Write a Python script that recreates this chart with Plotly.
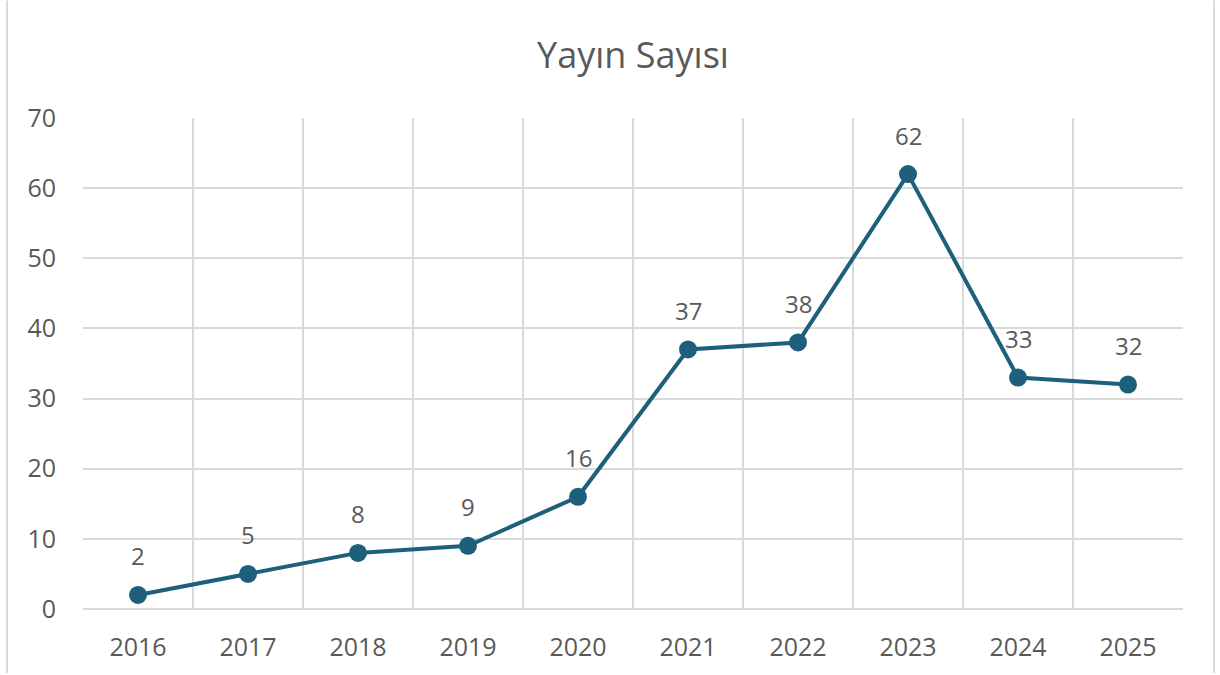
import plotly.graph_objects as go

years = ["2016", "2017", "2018", "2019", "2020", "2021", "2022", "2023", "2024", "2025"]
counts = [2, 5, 8, 9, 16, 37, 38, 62, 33, 32]
title_text = "Yayın Sayısı"

LINE = "#1E5F7C"
GRID = "#D9D9D9"
TXT = "#595959"
FONT = "Open Sans, Segoe UI, sans-serif"

fig = go.Figure()
fig.add_trace(go.Scatter(
    x=years, y=counts, mode="lines+markers",
    line=dict(color=LINE, width=4),
    marker=dict(color=LINE, size=18),
    hoverinfo="x+y", showlegend=False,
))

for i, y in enumerate(counts):
    fig.add_annotation(x=i, y=y, xref="x", yref="y", text=str(y), showarrow=False,
                       yshift=39, font=dict(family=FONT, size=24, color=TXT))

L, R, T, B = 83, 37, 118, 64
W, H = 1220, 675
pw, ph = W - L - R, H - T - B
# chart outer border (light gray sides)
for px in (7, 1214):
    xp = (px - L) / pw
    fig.add_shape(type="line", xref="paper", yref="paper",
                  x0=xp, x1=xp, y0=-B / ph, y1=(ph + T) / ph,
                  line=dict(color="#D9D9D9", width=2))

fig.update_layout(
    width=W, height=H,
    margin=dict(l=L, r=R, t=T, b=B),
    paper_bgcolor="white", plot_bgcolor="white",
    font=dict(family=FONT, color=TXT, size=24),
    title=dict(text=title_text, x=0.5, xref="paper", xanchor="center",
               y=1 - 55 / H, yref="container", yanchor="middle",
               font=dict(family=FONT, size=36, color=TXT)),
    xaxis=dict(type="category", tickson="boundaries", range=[-0.5, 9.5],
               showgrid=True, gridcolor=GRID, gridwidth=2,
               showline=False, ticks="", tickfont=dict(size=25, color=TXT),
               ticklabelstandoff=21),
    yaxis=dict(range=[0, 70], dtick=10, showgrid=True, gridcolor=GRID, gridwidth=2,
               zeroline=True, zerolinecolor=GRID, zerolinewidth=2,
               showline=False, ticks="", tickfont=dict(size=25, color=TXT),
               ticklabelstandoff=26),
)

fig.write_html("out.html", config={"displayModeBar": False},
               post_script="document.body.style.margin='0px';")
